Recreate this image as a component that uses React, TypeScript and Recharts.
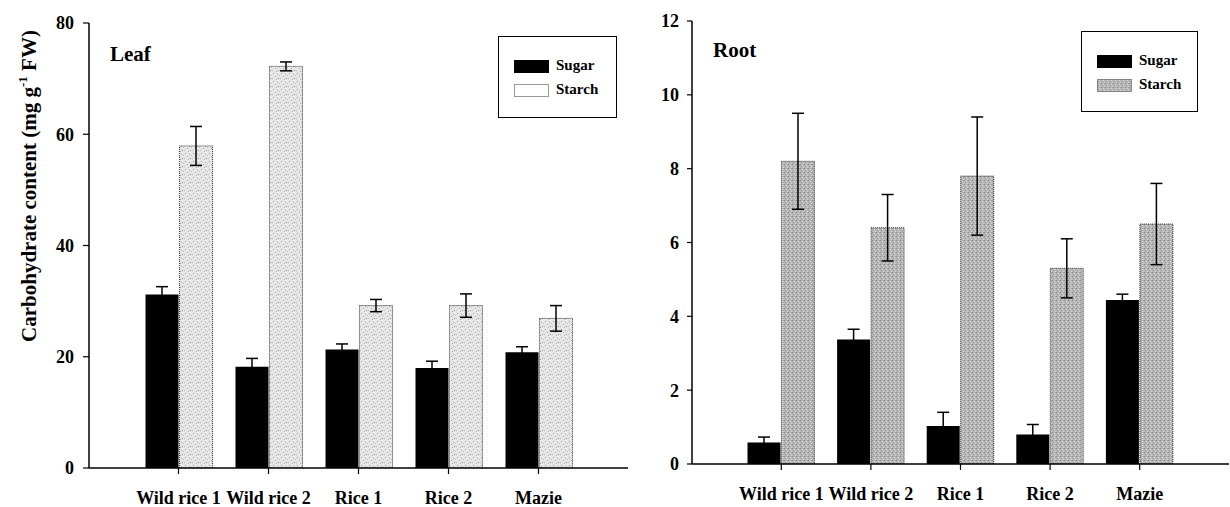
import React from 'react';
import { BarChart, Bar, XAxis, YAxis, ErrorBar, Legend } from 'recharts';

const FONT = '"Liberation Serif", "Times New Roman", Times, serif';

const categories = ['Wild rice 1', 'Wild rice 2', 'Rice 1', 'Rice 2', 'Mazie'];

const leafSugar = [31.2, 18.2, 21.3, 18.0, 20.8];
const leafSugarErr = [1.4, 1.5, 1.0, 1.2, 1.0];
const leafStarch = [57.9, 72.2, 29.2, 29.2, 26.9];
const leafStarchErr = [3.5, 0.8, 1.1, 2.1, 2.3];

const rootSugar = [0.58, 3.37, 1.03, 0.8, 4.44];
const rootSugarErr = [0.15, 0.28, 0.37, 0.27, 0.16];
const rootStarch = [8.2, 6.4, 7.8, 5.3, 6.5];
const rootStarchErr = [1.3, 0.9, 1.6, 0.8, 1.1];

const leafTicks = [0, 20, 40, 60, 80];
const rootTicks = [0, 2, 4, 6, 8, 10, 12];

const leafData = categories.map((name, i) => ({
  name,
  sugar: leafSugar[i],
  sugarErr: leafSugarErr[i],
  starch: leafStarch[i],
  starchErr: leafStarchErr[i],
}));

const rootData = categories.map((name, i) => ({
  name,
  sugar: rootSugar[i],
  sugarErr: rootSugarErr[i],
  starch: rootStarch[i],
  starchErr: rootStarchErr[i],
}));

const tickStyle = { fill: '#000', fontSize: 18, fontWeight: 'bold', fontFamily: FONT };

function Patterns() {
  return (
    <defs>
      <pattern id="leafStipple" width="8" height="8" patternUnits="userSpaceOnUse">
        <rect width="8" height="8" fill="#e6e6e6" />
        <rect x="1" y="1" width="1" height="1" fill="#999999" />
        <rect x="5" y="2" width="1" height="1" fill="#b0b0b0" />
        <rect x="3" y="4" width="1" height="1" fill="#a0a0a0" />
        <rect x="6" y="6" width="1" height="1" fill="#8c8c8c" />
        <rect x="0" y="6" width="1" height="1" fill="#bcbcbc" />
        <rect x="4" y="7" width="1" height="1" fill="#aaaaaa" />
        <rect x="7" y="3" width="1" height="1" fill="#c0c0c0" />
        <rect x="2" y="6" width="1" height="1" fill="#f6f6f6" />
        <rect x="6" y="0" width="1" height="1" fill="#f6f6f6" />
      </pattern>
      <pattern id="rootStipple" width="4" height="4" patternUnits="userSpaceOnUse">
        <rect width="4" height="4" fill="#b8b8b8" />
        <rect x="0" y="0" width="1" height="1" fill="#858585" />
        <rect x="2" y="1" width="1" height="1" fill="#dcdcdc" />
        <rect x="1" y="2" width="1" height="1" fill="#969696" />
        <rect x="3" y="3" width="1" height="1" fill="#d6d6d6" />
        <rect x="3" y="0" width="1" height="1" fill="#a0a0a0" />
      </pattern>
    </defs>
  );
}

function makeLegend(starchFill: string, w: number, h: number) {
  return () => (
    <div
      style={{
        position: 'relative',
        width: w,
        height: h,
        border: '1.5px solid #000',
        background: '#fff',
        boxSizing: 'border-box',
        fontFamily: FONT,
        fontWeight: 'bold',
        fontSize: 15,
        color: '#000',
      }}
    >
      <svg style={{ position: 'absolute', left: 15, top: 23 }} width={35} height={13}>
        <rect x={0} y={0} width={35} height={13} fill="#000" />
      </svg>
      <span style={{ position: 'absolute', left: 57, top: 20, lineHeight: '17px', whiteSpace: 'nowrap' }}>Sugar</span>
      <svg style={{ position: 'absolute', left: 15, top: 47 }} width={35} height={13}>
        <rect x={0.5} y={0.5} width={34} height={12} fill={starchFill} stroke="#333" strokeWidth={1} strokeDasharray="1 1" />
      </svg>
      <span style={{ position: 'absolute', left: 57, top: 44, lineHeight: '17px', whiteSpace: 'nowrap' }}>Starch</span>
    </div>
  );
}

function Panel(props: {
  data: any[];
  left: number;
  width: number;
  margin: any;
  yWidth: number;
  xHeight: number;
  domain: [number, number];
  ticks: number[];
  tickSize: number;
  tickMargin: number;
  starchFill: string;
  title: string;
  titleX: number;
  titleY: number;
  legendPos: { left: number; top: number; width: number; height: number };
  legendFill: string;
  children?: React.ReactNode;
}) {
  const p = props;
  return (
    <div style={{ position: 'absolute', left: p.left, top: 0 }}>
      <BarChart
        width={p.width}
        height={507}
        data={p.data}
        margin={p.margin}
        barGap={1}
        barSize={33}
      >
        <Patterns />
        <XAxis
          dataKey="name"
          type="category"
          interval={0}
          padding={{ left: 44.5, right: 44.5 }}
          height={p.xHeight}
          tickSize={6}
          tickMargin={17}
          tick={tickStyle}
          axisLine={{ stroke: '#000', strokeWidth: 1.5 }}
          tickLine={{ stroke: '#000', strokeWidth: 1.2 }}
        />
        <XAxis
          xAxisId="top"
          dataKey="name"
          orientation="top"
          height={0}
          tick={false}
          tickLine={false}
          axisLine={{ stroke: '#000', strokeWidth: 1.5 }}
        />
        <YAxis
          domain={p.domain}
          ticks={p.ticks}
          width={p.yWidth}
          tickSize={p.tickSize}
          tickMargin={p.tickMargin}
          tick={tickStyle}
          axisLine={{ stroke: '#000', strokeWidth: 1.5 }}
          tickLine={{ stroke: '#000', strokeWidth: 1.2 }}
          allowDataOverflow
        />
        <YAxis
          yAxisId="right"
          orientation="right"
          domain={p.domain}
          width={0}
          tick={false}
          tickLine={false}
          axisLine={{ stroke: '#000', strokeWidth: 1.5 }}
        />
        <Legend
          layout="vertical"
          align="center"
          verticalAlign="middle"
          wrapperStyle={{ left: p.legendPos.left, top: p.legendPos.top, width: p.legendPos.width, height: p.legendPos.height }}
          content={makeLegend(p.legendFill, p.legendPos.width, p.legendPos.height)}
        />
        <Bar dataKey="sugar" name="Sugar" fill="#000" isAnimationActive={false}>
          <ErrorBar dataKey="sugarErr" width={6} stroke="#000" strokeWidth={1.5} direction="y" />
        </Bar>
        <Bar
          dataKey="starch"
          name="Starch"
          fill={p.starchFill}
          stroke="#333"
          strokeWidth={1}
          strokeDasharray="1 1"
          isAnimationActive={false}
        >
          <ErrorBar dataKey="starchErr" width={6} stroke="#000" strokeWidth={1.5} direction="y" />
        </Bar>
        <text x={p.titleX} y={p.titleY} fontFamily={FONT} fontWeight="bold" fontSize={21} fill="#000">
          {p.title}
        </text>
        {p.children}
      </BarChart>
    </div>
  );
}

export default function App() {
  return (
    <div style={{ position: 'absolute', left: 0, top: 0, width: 1230, height: 507, background: '#fff' }}>
      <Panel
        data={leafData}
        left={0}
        width={640}
        margin={{ top: 23, right: 12, left: 29, bottom: 0 }}
        yWidth={60}
        xHeight={39}
        domain={[0, 80]}
        ticks={leafTicks}
        tickSize={6}
        tickMargin={9}
        starchFill="url(#leafStipple)"
        title="Leaf"
        titleX={110}
        titleY={61}
        legendPos={{ left: 498, top: 36, width: 119, height: 82 }}
        legendFill="#fff"
      >
        <text
          transform="translate(36,186) rotate(-90)"
          textAnchor="middle"
          fontFamily={FONT}
          fontWeight="bold"
          fontSize={21}
          fill="#000"
        >
          Carbohydrate content (mg g
          <tspan dy={-9} fontSize={13}>-1</tspan>
          <tspan dy={9}> FW)</tspan>
        </text>
      </Panel>
      <Panel
        data={rootData}
        left={640}
        width={590}
        margin={{ top: 21, right: 1, left: 0, bottom: 0 }}
        yWidth={52}
        xHeight={43}
        domain={[0, 12]}
        ticks={rootTicks}
        tickSize={5}
        tickMargin={8}
        starchFill="url(#rootStipple)"
        title="Root"
        titleX={73}
        titleY={57}
        legendPos={{ left: 441, top: 31, width: 117, height: 81 }}
        legendFill="url(#rootStipple)"
      />
    </div>
  );
}
